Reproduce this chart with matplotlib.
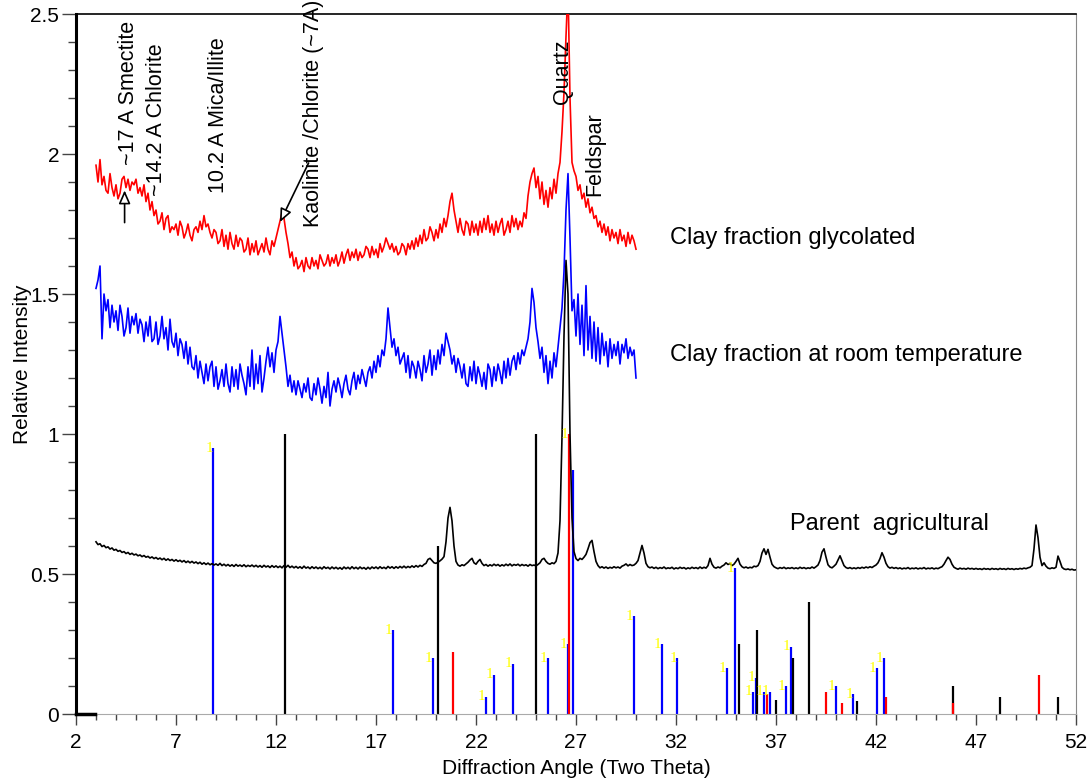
import matplotlib
matplotlib.use("Agg")
import matplotlib.pyplot as plt
from matplotlib.ticker import MultipleLocator, FuncFormatter
import numpy as np

plt.rcParams['font.family'] = ['Liberation Sans', 'DejaVu Sans']

# scans, 0.1 deg steps (two theta)
x_clay = np.round(np.arange(3.0, 30.05, 0.1), 2)
x_parent = np.round(np.arange(3.0, 52.05, 0.1), 2)

glycolated = [
    1.96, 1.90, 1.98, 1.89, 1.92, 1.87, 1.86, 1.93, 1.88, 1.85,
    1.89, 1.84, 1.86, 1.91, 1.92, 1.88, 1.91, 1.87, 1.90, 1.89,
    1.91, 1.86, 1.88, 1.85, 1.89, 1.83, 1.86, 1.80, 1.83, 1.78,
    1.80, 1.75, 1.76, 1.79, 1.73, 1.77, 1.78, 1.72, 1.74, 1.73,
    1.75, 1.71, 1.76, 1.74, 1.70, 1.72, 1.75, 1.71, 1.69, 1.73,
    1.74, 1.72, 1.76, 1.73, 1.78, 1.74, 1.75, 1.72, 1.70, 1.73,
    1.72, 1.68, 1.69, 1.73, 1.67, 1.71, 1.66, 1.72, 1.68, 1.66,
    1.71, 1.67, 1.70, 1.69, 1.65, 1.66, 1.70, 1.64, 1.68, 1.65,
    1.69, 1.64, 1.66, 1.68, 1.65, 1.70, 1.66, 1.64, 1.69, 1.67,
    1.70, 1.73, 1.76, 1.79, 1.77, 1.72, 1.68, 1.63, 1.65, 1.60,
    1.63, 1.59, 1.60, 1.62, 1.58, 1.63, 1.60, 1.59, 1.63, 1.60,
    1.62, 1.59, 1.64, 1.62, 1.60, 1.61, 1.64, 1.60, 1.63, 1.61,
    1.64, 1.60, 1.62, 1.65, 1.61, 1.64, 1.66, 1.62, 1.65, 1.63,
    1.66, 1.62, 1.65, 1.63, 1.64, 1.67, 1.66, 1.63, 1.67, 1.64,
    1.66, 1.63, 1.68, 1.65, 1.67, 1.70, 1.68, 1.66, 1.68, 1.65,
    1.67, 1.64, 1.65, 1.68, 1.67, 1.64, 1.68, 1.66, 1.69, 1.66,
    1.70, 1.67, 1.71, 1.68, 1.73, 1.69, 1.70, 1.74, 1.72, 1.69,
    1.73, 1.70, 1.75, 1.72, 1.77, 1.74, 1.78, 1.83, 1.86, 1.80,
    1.76, 1.72, 1.77, 1.73, 1.71, 1.76, 1.75, 1.71, 1.76, 1.72,
    1.75, 1.71, 1.76, 1.72, 1.77, 1.73, 1.78, 1.72, 1.75, 1.71,
    1.76, 1.72, 1.75, 1.77, 1.71, 1.73, 1.76, 1.72, 1.78, 1.74,
    1.77, 1.73, 1.76, 1.74, 1.79, 1.77, 1.85, 1.90, 1.93, 1.95,
    1.88, 1.92, 1.84, 1.90, 1.82, 1.87, 1.81, 1.88, 1.84, 1.91,
    1.86, 1.93, 1.97, 2.08, 2.22, 2.42, 2.60, 2.20, 1.97, 1.94,
    1.92, 1.87, 1.89, 1.84, 1.86, 1.81, 1.84, 1.79, 1.81, 1.77,
    1.78, 1.74, 1.76, 1.72, 1.75, 1.71, 1.74, 1.69, 1.73, 1.70,
    1.72, 1.68, 1.73, 1.69, 1.71, 1.67, 1.72, 1.68, 1.71, 1.69,
    1.66,
]

room_temp = [
    1.52, 1.55, 1.60, 1.34, 1.50, 1.44, 1.48, 1.38, 1.46, 1.40,
    1.44, 1.37, 1.46, 1.42, 1.35, 1.38, 1.45, 1.36, 1.42, 1.39,
    1.43, 1.36, 1.41, 1.39, 1.33, 1.40, 1.35, 1.42, 1.33, 1.34,
    1.40, 1.32, 1.35, 1.42, 1.34, 1.38, 1.30, 1.41, 1.33, 1.31,
    1.36, 1.28, 1.34, 1.32, 1.27, 1.33, 1.25, 1.31, 1.24, 1.23,
    1.28, 1.20, 1.26, 1.22, 1.18, 1.25, 1.19, 1.24, 1.26, 1.17,
    1.24, 1.16, 1.19, 1.23, 1.17, 1.25, 1.18, 1.15, 1.24, 1.17,
    1.23, 1.16, 1.25, 1.21, 1.18, 1.14, 1.24, 1.17, 1.30, 1.16,
    1.25, 1.18, 1.28, 1.15, 1.20, 1.26, 1.31, 1.24, 1.29, 1.22,
    1.30, 1.33, 1.42, 1.36, 1.30, 1.24, 1.17, 1.21, 1.15, 1.19,
    1.14, 1.19, 1.16, 1.13, 1.18, 1.15, 1.20, 1.13, 1.12, 1.18,
    1.14, 1.20, 1.16, 1.11, 1.17, 1.13, 1.22, 1.10, 1.16, 1.19,
    1.15, 1.20, 1.17, 1.13, 1.18, 1.21, 1.16, 1.14, 1.19, 1.22,
    1.16, 1.21, 1.18, 1.23, 1.20, 1.17, 1.22, 1.24, 1.20, 1.26,
    1.22, 1.28, 1.24, 1.30, 1.28, 1.34, 1.45, 1.38, 1.31, 1.34,
    1.28, 1.31, 1.25, 1.27, 1.29, 1.22, 1.28, 1.20, 1.26, 1.24,
    1.20, 1.26, 1.23, 1.19, 1.28, 1.22, 1.25, 1.30, 1.21, 1.28,
    1.23, 1.30, 1.25, 1.32, 1.28, 1.36, 1.33, 1.30, 1.25, 1.28,
    1.22, 1.27, 1.24, 1.20, 1.25, 1.18, 1.17, 1.24, 1.19, 1.26,
    1.18, 1.24, 1.21, 1.17, 1.22, 1.16, 1.25, 1.23, 1.17, 1.24,
    1.19, 1.25, 1.22, 1.18, 1.26, 1.20, 1.27, 1.21, 1.26, 1.28,
    1.23, 1.29, 1.25, 1.30, 1.28, 1.31, 1.34, 1.40, 1.52, 1.47,
    1.38, 1.33, 1.27, 1.31, 1.22, 1.28, 1.18, 1.26, 1.20, 1.29,
    1.24, 1.31, 1.38, 1.45, 1.58, 1.80, 1.93, 1.70, 1.44, 1.48,
    1.35, 1.50, 1.32, 1.46, 1.28, 1.53, 1.30, 1.42, 1.27, 1.40,
    1.26, 1.38, 1.25, 1.36, 1.28, 1.33, 1.24, 1.34, 1.27, 1.32,
    1.28, 1.33, 1.25, 1.32, 1.29, 1.34, 1.27, 1.31, 1.28, 1.30,
    1.20,
]

parent = [
    0.615, 0.605, 0.608, 0.598, 0.602, 0.594, 0.597, 0.589, 0.593, 0.585,
    0.588, 0.581, 0.584, 0.577, 0.580, 0.573, 0.577, 0.570, 0.574, 0.568,
    0.571, 0.565, 0.568, 0.562, 0.566, 0.560, 0.563, 0.557, 0.561, 0.555,
    0.559, 0.553, 0.557, 0.551, 0.556, 0.549, 0.554, 0.548, 0.552, 0.546,
    0.551, 0.545, 0.549, 0.543, 0.548, 0.541, 0.546, 0.540, 0.545, 0.539,
    0.543, 0.537, 0.542, 0.535, 0.540, 0.534, 0.539, 0.533, 0.537, 0.532,
    0.536, 0.531, 0.538, 0.530, 0.535, 0.529, 0.534, 0.528, 0.533, 0.527,
    0.534, 0.528, 0.532, 0.527, 0.533, 0.526, 0.531, 0.527, 0.532, 0.526,
    0.531, 0.525, 0.530, 0.524, 0.531, 0.525, 0.529, 0.523, 0.530, 0.524,
    0.529, 0.523, 0.528, 0.522, 0.530, 0.524, 0.531, 0.523, 0.528, 0.522,
    0.527, 0.521, 0.526, 0.520, 0.528, 0.521, 0.525, 0.519, 0.526, 0.520,
    0.525, 0.519, 0.524, 0.518, 0.526, 0.520, 0.524, 0.518, 0.525, 0.519,
    0.524, 0.518, 0.523, 0.517, 0.525, 0.519, 0.524, 0.518, 0.526, 0.519,
    0.524, 0.518, 0.525, 0.519, 0.523, 0.517, 0.524, 0.518, 0.525, 0.520,
    0.525, 0.519, 0.526, 0.520, 0.524, 0.519, 0.527, 0.521, 0.526, 0.520,
    0.526, 0.521, 0.527, 0.522, 0.528, 0.522, 0.527, 0.523, 0.529, 0.524,
    0.530, 0.525, 0.531, 0.527, 0.534, 0.538, 0.552, 0.556, 0.548, 0.540,
    0.538, 0.542, 0.547, 0.553, 0.562, 0.615, 0.700, 0.738, 0.690, 0.600,
    0.545, 0.532, 0.528, 0.533, 0.530, 0.536, 0.542, 0.550, 0.556, 0.540,
    0.535, 0.545, 0.552, 0.538, 0.530, 0.534, 0.528, 0.533, 0.529, 0.535,
    0.530, 0.534, 0.528, 0.533, 0.529, 0.535, 0.530, 0.536, 0.529, 0.534,
    0.531, 0.535, 0.529, 0.534, 0.530, 0.533, 0.528, 0.534, 0.530, 0.532,
    0.529, 0.534, 0.540, 0.552, 0.556, 0.545, 0.538, 0.535, 0.540, 0.537,
    0.545, 0.575, 0.690, 0.990, 1.350, 1.620, 1.500, 1.000, 0.700, 0.580,
    0.555, 0.548, 0.556, 0.552, 0.560, 0.570, 0.590, 0.612, 0.620, 0.580,
    0.545, 0.530, 0.522, 0.526, 0.521, 0.525, 0.520, 0.524, 0.521, 0.526,
    0.522, 0.525, 0.521, 0.528, 0.531, 0.536, 0.529, 0.534, 0.530, 0.532,
    0.538, 0.548, 0.575, 0.602, 0.575, 0.538, 0.526, 0.522, 0.525, 0.520,
    0.524, 0.519, 0.523, 0.520, 0.525, 0.519, 0.522, 0.520, 0.524, 0.518,
    0.522, 0.519, 0.524, 0.520, 0.523, 0.518, 0.522, 0.519, 0.524, 0.520,
    0.523, 0.519, 0.525, 0.520, 0.524, 0.521, 0.530, 0.556, 0.535, 0.524,
    0.521, 0.525, 0.522, 0.528, 0.532, 0.540, 0.534, 0.538, 0.530, 0.535,
    0.545, 0.556, 0.535, 0.526, 0.522, 0.525, 0.521, 0.524, 0.522, 0.528,
    0.526, 0.530, 0.545, 0.575, 0.590, 0.570, 0.588, 0.560, 0.535, 0.526,
    0.522, 0.519, 0.523, 0.520, 0.524, 0.519, 0.522, 0.520, 0.523, 0.519,
    0.522, 0.519, 0.524, 0.520, 0.523, 0.519, 0.522, 0.520, 0.525, 0.521,
    0.526, 0.532, 0.548, 0.578, 0.590, 0.560, 0.533, 0.525, 0.522, 0.528,
    0.535, 0.550, 0.565, 0.548, 0.530, 0.523, 0.520, 0.523, 0.519, 0.522,
    0.519, 0.523, 0.520, 0.524, 0.521, 0.525, 0.522, 0.526, 0.523, 0.528,
    0.532, 0.540, 0.555, 0.576, 0.560, 0.538, 0.526, 0.521, 0.524, 0.520,
    0.523, 0.519, 0.522, 0.518, 0.521, 0.519, 0.523, 0.518, 0.521, 0.519,
    0.522, 0.518, 0.521, 0.519, 0.523, 0.518, 0.521, 0.519, 0.522, 0.518,
    0.521, 0.519, 0.523, 0.526, 0.535, 0.548, 0.560, 0.552, 0.535, 0.524,
    0.520, 0.517, 0.521, 0.518, 0.520, 0.517, 0.521, 0.518, 0.520, 0.517,
    0.520, 0.517, 0.519, 0.516, 0.520, 0.517, 0.519, 0.516, 0.520, 0.517,
    0.519, 0.516, 0.520, 0.517, 0.519, 0.516, 0.520, 0.517, 0.519, 0.516,
    0.519, 0.517, 0.520, 0.518, 0.521, 0.519, 0.522, 0.524, 0.530, 0.590,
    0.675, 0.630, 0.560, 0.530, 0.540, 0.528, 0.521, 0.519, 0.522, 0.520,
    0.524, 0.564, 0.545, 0.524, 0.518, 0.516, 0.518, 0.515, 0.517, 0.514,
    0.515,
]

# short flat start of the parent trace at zero
zero_x = [2.0, 2.95]
zero_y = [0.0, 0.0]

# reference peak sticks
blue_pos = [8.87, 17.83, 19.83, 22.5, 22.9, 23.83, 25.58, 26.6, 26.87, 29.9, 31.28, 32.07,
            34.53, 34.95, 35.83, 35.98, 36.4, 36.7, 37.5, 37.73, 40.0, 40.87, 42.03, 42.4]
blue_h = [0.95, 0.30, 0.20, 0.062, 0.14, 0.18, 0.20, 0.25, 0.87, 0.35, 0.25, 0.20,
          0.163, 0.52, 0.08, 0.13, 0.08, 0.08, 0.10, 0.24, 0.10, 0.07, 0.163, 0.20]
black_pos = [12.45, 20.12, 25.0, 35.17, 36.03, 37.0, 37.87, 38.67, 41.03, 45.83, 48.2, 51.12]
black_h = [1.0, 0.60, 1.0, 0.25, 0.30, 0.05, 0.20, 0.40, 0.048, 0.10, 0.062, 0.062]
red_pos = [20.83, 26.65, 36.55, 39.48, 40.32, 42.5, 45.83, 50.17]
red_h = [0.22, 1.0, 0.07, 0.08, 0.04, 0.062, 0.04, 0.139]

fig = plt.figure(figsize=(10.91, 7.8), dpi=100)
ax = fig.add_axes([76 / 1091, 1 - 714 / 780, 1000 / 1091, 700 / 780])

ax.vlines(blue_pos, 0, blue_h, colors='#0000ff', lw=1.6, zorder=2)
ax.vlines(black_pos, 0, black_h, colors='black', lw=1.6, zorder=2)
ax.vlines(red_pos, 0, red_h, colors='#ff0000', lw=1.6, zorder=2)

# yellow "1" markers on top of the blue sticks
for p, h in zip(blue_pos, blue_h):
    if p == 26.87:
        continue
    ax.text(p - 0.03, h, "1", color='#ffff00', fontsize=11, family='Liberation Serif',
            ha='right', va='center', zorder=4)
ax.text(26.62, 1.0, "1", color='#ffff00', fontsize=11, family='Liberation Serif',
        ha='right', va='center', zorder=4)

ax.plot(zero_x, zero_y, color='black', lw=2.5, zorder=3, clip_on=False)
ax.plot(x_parent, parent, color='black', lw=1.2, zorder=3)
ax.plot(x_clay, room_temp, color='#0000ff', lw=1.2, zorder=3)
ax.plot(x_clay, glycolated, color='#ff0000', lw=1.2, zorder=3)

# peak annotations
fs_note = 15.5
ax.text(4.6, 1.96, "~17 A Smectite", rotation=90, fontsize=fs_note, ha='center', va='bottom')
ax.text(6.05, 1.85, "~14.2 A Chlorite", rotation=90, fontsize=fs_note, ha='center', va='bottom')
ax.text(9.15, 1.86, "10.2 A Mica/Illite", rotation=90, fontsize=fs_note, ha='center', va='bottom')
ax.text(13.9, 1.74, "Kaolinite /Chlorite (~7A)", rotation=90, fontsize=fs_note, ha='center', va='bottom')
ax.text(26.35, 2.18, "Quartz", rotation=90, fontsize=fs_note, ha='center', va='bottom')
ax.text(27.95, 1.85, "Feldspar", rotation=90, fontsize=fs_note, ha='center', va='bottom')

arrow = dict(arrowstyle='-|>,head_length=0.8,head_width=0.35', facecolor='white',
             edgecolor='black', lw=1.2, shrinkA=0, shrinkB=0)
ax.annotate("", xy=(4.43, 1.87), xytext=(4.43, 1.755), arrowprops=arrow)
ax.annotate("", xy=(12.2, 1.757), xytext=(13.63, 1.968), arrowprops=arrow)

ax.text(31.7, 1.70, "Clay fraction glycolated", fontsize=17, va='center')
ax.text(31.7, 1.282, "Clay fraction at room temperature", fontsize=17, va='center')
ax.text(37.7, 0.679, "Parent  agricultural", fontsize=17, va='center')

ax.set_xlim(2, 52)
ax.set_ylim(0, 2.5)
ax.set_xticks(np.arange(2, 53, 5))
ax.xaxis.set_minor_locator(MultipleLocator(1))
ax.set_yticks(np.arange(0, 2.51, 0.5))
ax.yaxis.set_minor_locator(MultipleLocator(0.1))
ax.yaxis.set_major_formatter(FuncFormatter(lambda v, p: f"{v:g}"))

ax.tick_params(axis='x', which='major', length=8, width=1, color='#444444', labelsize=15, pad=6)
ax.tick_params(axis='x', which='minor', length=4, width=1, color='#444444')
ax.tick_params(axis='y', which='major', length=10, width=1, color='#444444', labelsize=15, pad=2)
ax.tick_params(axis='y', which='minor', length=6, width=1, color='#444444')

ax.spines['left'].set_linewidth(2.2)
ax.spines['top'].set_linewidth(1.2)
ax.spines['right'].set_linewidth(0.8)
ax.spines['right'].set_color('#888888')
ax.spines['bottom'].set_linewidth(0.8)
ax.spines['bottom'].set_color('#aaaaaa')
ax.spines['bottom'].set_linestyle((0, (2, 1)))

ax.set_xlabel("Diffraction Angle (Two Theta)", fontsize=15, labelpad=5)
ax.set_ylabel("Relative Intensity", fontsize=15, labelpad=-1)

fig.savefig("out.png", dpi=100)
